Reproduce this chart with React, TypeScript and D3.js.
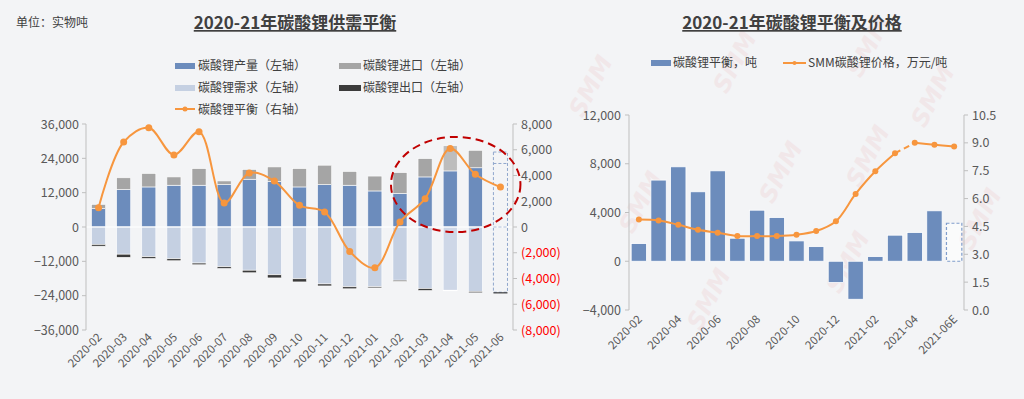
import React from 'react';
import * as d3 from 'd3';

// ---------- Data: left chart (tons) ----------
const categories = ['2020-02','2020-03','2020-04','2020-05','2020-06','2020-07','2020-08','2020-09','2020-10','2020-11','2020-12','2021-01','2021-02','2021-03','2021-04','2021-05','2021-06'];
const production = [6400,13100,14000,14600,14600,14800,16700,15900,14000,14800,14600,12600,11700,17500,19600,20700,22200];
const imports = [1500,4100,4700,2900,5800,1300,3400,5100,6400,6800,4800,5200,7300,6400,8800,6100,4000];
const demand = [-6100,-9500,-10400,-11100,-12600,-13900,-15100,-16700,-18100,-19900,-20900,-20900,-18600,-21500,-22100,-22500,-22800];
const exportsArr = [-600,-1100,-600,-700,-600,-600,-900,-1100,-1100,-700,-700,-400,-400,-700,-200,-500,-200];
const balanceLeft = [1500,6600,7700,5600,7400,1870,4200,3570,1680,1170,-1900,-3160,390,2200,6100,4100,3100];
const leftTicks = [-36000,-24000,-12000,0,12000,24000,36000];
const rightTicks = [-8000,-6000,-4000,-2000,0,2000,4000,6000,8000];

// ---------- Data: right chart ----------
const balanceRight = [1450,6660,7750,5700,7420,1890,4190,3590,1670,1200,-1750,-3120,380,2140,2360,4140,3120];
const price = [4.87,4.82,4.59,4.32,4.16,3.98,3.98,3.98,4.05,4.25,4.78,6.25,7.47,8.44,9.0,8.9,8.8];
const rCategories = ['2020-02','2020-03','2020-04','2020-05','2020-06','2020-07','2020-08','2020-09','2020-10','2020-11','2020-12','2021-01','2021-02','2021-03','2021-04','2021-05','2021-06E'];
const r2LeftTicks = [-4000,0,4000,8000,12000];
const r2RightTicks = [0,1.5,3,4.5,6,7.5,9,10.5];

const FONT = '"Noto Sans CJK SC", "Microsoft YaHei", sans-serif';
const BG = '#f3f4f6';
const BLUE = '#6c8cbc';
const GRAY = '#a5a5a5';
const LIGHT = '#c5d0e2';
const DARK = '#3b3b3b';
const ORANGE = '#f7963e';
const AXIS = '#bfbfbf';
const TXT = '#595959';

const fmt = d3.format(',');

export default function App() {
  // Left chart scales
  const x = d3.scaleBand().domain(categories).range([86, 513]).paddingInner(0.44).paddingOuter(0.22);
  const yL = d3.scaleLinear().domain([-36000, 36000]).range([330, 124]);
  const yR = d3.scaleLinear().domain([-8000, 8000]).range([330, 124]);
  const bw = x.bandwidth();
  const cx = (c: string) => (x(c) as number) + bw / 2;
  const lastIdx = categories.length - 1;

  const balLine = d3.line<number>()
    .x((_, i) => cx(categories[i]))
    .y((d) => yR(d))
    .curve(d3.curveCatmullRom.alpha(0.5));

  // Right chart scales
  const x2 = d3.scaleBand().domain(rCategories).range([629, 964]).paddingInner(0.22).paddingOuter(0.11);
  const y2L = d3.scaleLinear().domain([-4000, 12000]).range([310, 115]);
  const y2R = d3.scaleLinear().domain([0, 10.5]).range([310, 115]);
  const bw2 = x2.bandwidth();
  const cx2 = (c: string) => (x2(c) as number) + bw2 / 2;
  const priceLine = d3.line<[number, number]>()
    .x((d) => cx2(rCategories[d[0]]))
    .y((d) => y2R(d[1]))
    .curve(d3.curveCatmullRom.alpha(0.5));
  const pts: [number, number][] = price.map((p, i) => [i, p]);
  const solidA = pts.slice(0, 14);
  const dashed = pts.slice(13, 15);
  const solidB = pts.slice(14);

  // ellipse annotation derived from scales
  const eLeft = cx(categories[12]) - 9;
  const eRight = cx(categories[16]) + 20;
  const eTop = yR(7000);
  const eBot = yR(-400);

  const watermarks = [
    [598, 90], [742, 66], [876, 50], [940, 100], [648, 206], [716, 303], [788, 176], [875, 160], [855, 266], [987, 223]
  ];

  return (
    <svg width={1024} height={399} style={{ position: 'fixed', left: 0, top: 0, display: 'block' }} fontFamily={FONT}>
      <rect x={0} y={0} width={1024} height={399} fill={BG} />

      {/* watermarks */}
      <g>
        {watermarks.map(([wx, wy], i) => (
          <text key={i} x={wx} y={wy} transform={`rotate(-62 ${wx} ${wy})`} textAnchor="middle" fontSize={24} fontWeight={900} fontStyle="italic" fill="#e9a3a3" opacity={0.15} fontFamily="DejaVu Sans, sans-serif">SMM</text>
        ))}
      </g>

      {/* ================= LEFT CHART ================= */}
      <text x={16} y={27} fontSize={12} fill="#404040">单位：实物吨</text>
      <text x={295} y={29} fontSize={17} fontWeight="bold" fill="#404040" textAnchor="middle" textDecoration="underline">2020-21年碳酸锂供需平衡</text>

      {/* legend */}
      <g fontSize={12} fill="#404040">
        <rect x={175} y={63} width={20} height={6} fill={BLUE} />
        <text x={198} y={70}>碳酸锂产量（左轴）</text>
        <rect x={339} y={63} width={22} height={6} fill={GRAY} />
        <text x={363} y={70}>碳酸锂进口（左轴）</text>
        <rect x={175} y={85} width={20} height={6} fill={LIGHT} />
        <text x={198} y={92}>碳酸锂需求（左轴）</text>
        <rect x={339} y={85} width={22} height={6} fill={DARK} />
        <text x={363} y={92}>碳酸锂出口（左轴）</text>
        <line x1={175} x2={195} y1={109} y2={109} stroke={ORANGE} strokeWidth={2} />
        <circle cx={185} cy={109} r={2.5} fill={ORANGE} />
        <text x={198} y={114}>碳酸锂平衡（右轴）</text>
      </g>

      {/* bars */}
      <g>
        {categories.map((c, i) => {
          const x0 = x(c) as number;
          const p = production[i], im = imports[i], d = demand[i], e = exportsArr[i];
          if (i === lastIdx) {
            return (
              <g key={c} fill="none" stroke="#8fa6cc" strokeWidth={1} strokeDasharray="3,2">
                <rect x={x0} y={yL(p + im)} width={bw} height={yL(0) - yL(p + im)} />
                <line x1={x0} x2={x0 + bw} y1={yL(p)} y2={yL(p)} />
                <rect x={x0} y={yL(0)} width={bw} height={yL(d) - yL(0)} />
                <rect x={x0} y={yL(d)} width={bw} height={Math.max(1.2, yL(d + e) - yL(d))} fill={DARK} stroke="none" />
              </g>
            );
          }
          const faded = i === 14;
          return (
            <g key={c} stroke="#ffffff" strokeWidth={0.6}>
              <rect x={x0} y={yL(p)} width={bw} height={yL(0) - yL(p)} fill={BLUE} />
              <rect x={x0} y={yL(p + im)} width={bw} height={yL(p) - yL(p + im)} fill={faded ? '#bdbdbd' : GRAY} />
              <rect x={x0} y={yL(0)} width={bw} height={yL(d) - yL(0)} fill={faded ? '#ced7e7' : LIGHT} />
              <rect x={x0} y={yL(d)} width={bw} height={yL(d + e) - yL(d)} fill={faded ? '#d8d8d8' : DARK} />
            </g>
          );
        })}
      </g>
      <line x1={86} x2={513} y1={yL(0)} y2={yL(0)} stroke="#ffffff" strokeWidth={1.2} />

      {/* axes */}
      <g>
        <line x1={86} x2={86} y1={yL(36000)} y2={yL(-36000)} stroke={AXIS} />
        {leftTicks.map((t) => (
          <g key={t}>
            <line x1={82} x2={86} y1={yL(t)} y2={yL(t)} stroke={AXIS} />
            <text x={79} y={yL(t) + 4.5} textAnchor="end" fontSize={12.5} fill={TXT}>{fmt(t)}</text>
          </g>
        ))}
        <line x1={513} x2={513} y1={yR(8000)} y2={yR(-8000)} stroke={AXIS} />
        {rightTicks.map((t) => (
          <g key={t}>
            <line x1={513} x2={517} y1={yR(t)} y2={yR(t)} stroke={AXIS} />
            <text x={521} y={yR(t) + 4.5} fontSize={12.5} fill={t < 0 ? '#ff0000' : TXT}>{t < 0 ? `(${fmt(-t)})` : fmt(t)}</text>
          </g>
        ))}
        {categories.map((c) => (
          <text key={c} transform={`translate(${cx(c) + 4},${338}) rotate(-45)`} textAnchor="end" fontSize={11.5} fill={TXT}>{c}</text>
        ))}
      </g>

      {/* balance line */}
      <path d={balLine(balanceLeft) || ''} fill="none" stroke={ORANGE} strokeWidth={2} />
      {balanceLeft.map((v, i) => (
        <circle key={i} cx={cx(categories[i])} cy={yR(v)} r={3.5} fill={ORANGE} />
      ))}

      {/* annotation ellipse */}
      <ellipse cx={(eLeft + eRight) / 2} cy={(eTop + eBot) / 2} rx={(eRight - eLeft) / 2} ry={(eBot - eTop) / 2} fill="none" stroke="#c00000" strokeWidth={2} strokeDasharray="8,5" />

      {/* ================= RIGHT CHART ================= */}
      <text x={792} y={29} fontSize={17} fontWeight="bold" fill="#404040" textAnchor="middle" textDecoration="underline">2020-21年碳酸锂平衡及价格</text>
      <g fontSize={12} fill="#404040">
        <rect x={651} y={60} width={20} height={6} fill={BLUE} />
        <text x={673} y={67}>碳酸锂平衡，吨</text>
        <line x1={783} x2={806} y1={63} y2={63} stroke={ORANGE} strokeWidth={2} />
        <circle cx={794.5} cy={63} r={2} fill={ORANGE} />
        <text x={808} y={67}>SMM碳酸锂价格，万元/吨</text>
      </g>

      {/* right bars */}
      <g>
        {rCategories.map((c, i) => {
          const v = balanceRight[i];
          const x0 = x2(c) as number;
          const y0 = Math.min(y2L(v), y2L(0));
          const h = Math.abs(y2L(v) - y2L(0));
          if (i === rCategories.length - 1) {
            return <rect key={c} x={x0} y={y0} width={bw2} height={h} fill="#ffffff" fillOpacity={0.6} stroke="#7f9dcc" strokeWidth={1.2} strokeDasharray="3,2" />;
          }
          return <rect key={c} x={x0} y={y0} width={bw2} height={h} fill={BLUE} stroke="#ffffff" strokeWidth={0.8} />;
        })}
      </g>

      {/* right axes */}
      <g>
        <line x1={629} x2={629} y1={y2L(12000)} y2={y2L(-4000)} stroke={AXIS} />
        {r2LeftTicks.map((t) => (
          <g key={t}>
            <line x1={625} x2={629} y1={y2L(t)} y2={y2L(t)} stroke={AXIS} />
            <text x={621} y={y2L(t) + 4.5} textAnchor="end" fontSize={12.5} fill={TXT}>{fmt(t)}</text>
          </g>
        ))}
        <line x1={964} x2={964} y1={y2R(10.5)} y2={y2R(0)} stroke={AXIS} />
        {r2RightTicks.map((t) => (
          <g key={t}>
            <line x1={964} x2={968} y1={y2R(t)} y2={y2R(t)} stroke={AXIS} />
            <text x={972} y={y2R(t) + 4.5} fontSize={12.5} fill={TXT}>{d3.format('.1f')(t)}</text>
          </g>
        ))}
        {rCategories.map((c, i) => (i % 2 === 0 ? (
          <text key={c} transform={`translate(${cx2(c) + 4},${320}) rotate(-45)`} textAnchor="end" fontSize={11.5} fill={TXT}>{c}</text>
        ) : null))}
      </g>

      {/* price line */}
      <path d={priceLine(solidA) || ''} fill="none" stroke={ORANGE} strokeWidth={2} />
      <path d={priceLine(dashed) || ''} fill="none" stroke={ORANGE} strokeWidth={2} strokeDasharray="6,4" />
      <path d={priceLine(solidB) || ''} fill="none" stroke={ORANGE} strokeWidth={2} />
      {price.map((p, i) => (
        <circle key={i} cx={cx2(rCategories[i])} cy={y2R(p)} r={3} fill={ORANGE} />
      ))}
    </svg>
  );
}
